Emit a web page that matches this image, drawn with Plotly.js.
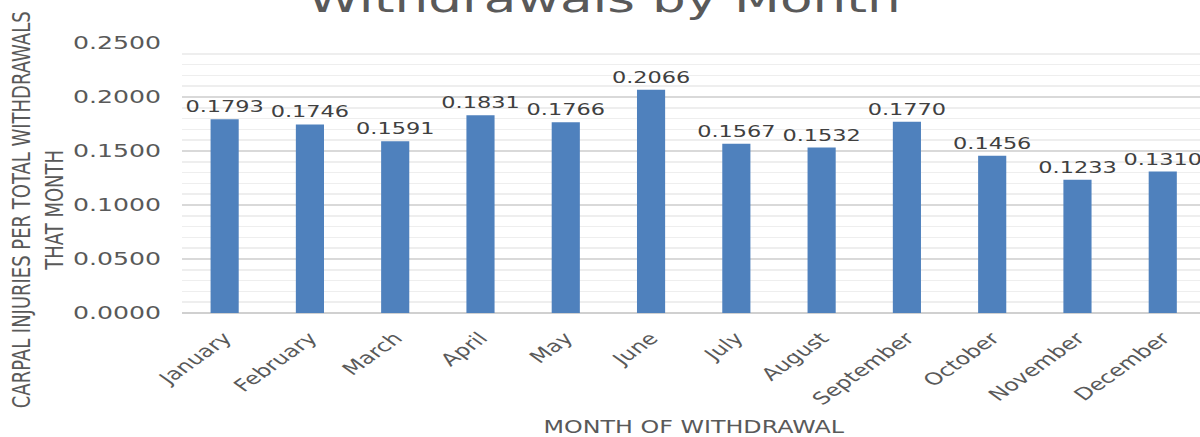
<!DOCTYPE html>
<html>
<head>
<meta charset="utf-8">
<script src="https://cdn.plot.ly/plotly-3.0.1.min.js"></script>
<style>
html, body { margin: 0; padding: 0; background: #ffffff; overflow: hidden; width: 1200px; height: 437px; }
#chart { width: 870px; height: 437px; transform: scaleX(1.4); transform-origin: 0 0; }
</style>
</head>
<body>
<div id="chart"></div>
<script>
const months = ["January", "February", "March", "April", "May", "June", "July", "August", "September", "October", "November", "December"];
const injuryRate = [0.1793, 0.1746, 0.1591, 0.1831, 0.1766, 0.2066, 0.1567, 0.1532, 0.1770, 0.1456, 0.1233, 0.1310];
const yTickValues = [0, 0.05, 0.10, 0.15, 0.20, 0.25];
const yTickLabels = ["0.0000", "0.0500", "0.1000", "0.1500", "0.2000", "0.2500"];

const chartTitle = "Withdrawals by Month";
const xTitle = "MONTH OF WITHDRAWAL";
const yTitle = "CARPAL INJURIES PER TOTAL WITHDRAWALS<br>THAT MONTH";

const FONT = "DejaVu Sans, Verdana, sans-serif";
const GREY = "#595959";

const trace = {
  type: "bar",
  x: months,
  y: injuryRate,
  marker: { color: "#4f81bd" },
  text: injuryRate.map(v => v.toFixed(4)),
  textposition: "outside",
  textfont: { family: FONT, size: 16, color: "#404040" },
  constraintext: "none",
  cliponaxis: false,
  hoverinfo: "x+y"
};

const layout = {
  width: 870,
  height: 437,
  margin: { l: 130, r: 9, t: 43, b: 124 },
  paper_bgcolor: "#ffffff",
  plot_bgcolor: "#ffffff",
  showlegend: false,
  bargap: 0.67,
  font: { family: FONT, color: GREY },
  title: {
    text: chartTitle,
    font: { family: FONT, size: 38, color: GREY },
    xref: "container", x: 0.496, xanchor: "center",
    yref: "container", y: 0.9725, yanchor: "bottom"
  },
  xaxis: {
    type: "category",
    tickangle: -45,
    tickfont: { family: FONT, size: 17, color: GREY },
    showgrid: false,
    showline: false,
    zeroline: false,
    ticks: "",
    ticklabelstandoff: 11,
    title: { text: xTitle, font: { family: FONT, size: 17, color: GREY }, standoff: 16 },
    automargin: false
  },
  yaxis: {
    range: [0, 0.25],
    tickvals: yTickValues,
    ticktext: yTickLabels,
    tickfont: { family: FONT, size: 18, color: GREY },
    showgrid: true,
    gridcolor: "#d9d9d9",
    gridwidth: 1.5,
    zeroline: true,
    zerolinecolor: "#d0d0d0",
    zerolinewidth: 2,
    showline: false,
    ticks: "",
    ticklabelstandoff: 14,
    minor: { dtick: 0.01, showgrid: true, gridcolor: "#eeeeee", gridwidth: 1.5, ticks: "" },
    automargin: false,
    fixedrange: true
  },
  annotations: [{
    text: yTitle,
    xref: "paper", yref: "paper",
    x: -0.1417, y: 0.3815,
    xanchor: "center", yanchor: "middle",
    textangle: -90,
    showarrow: false,
    font: { family: FONT, size: 18, color: GREY }
  }]
};

Plotly.newPlot("chart", [trace], layout, { displayModeBar: false, staticPlot: true });
</script>
</body>
</html>
